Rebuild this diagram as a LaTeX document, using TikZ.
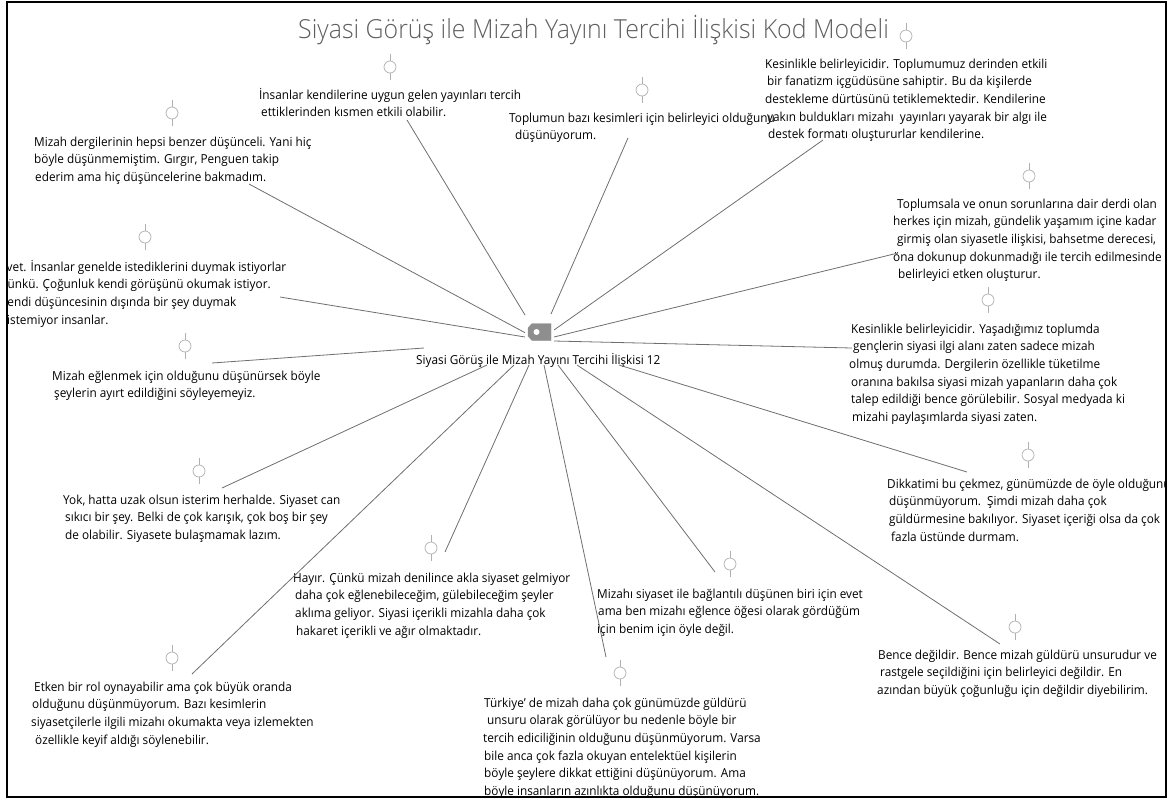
\documentclass[tikz,border=0pt]{standalone}
\usepackage{fontspec}
\setmainfont{Open Sans}[FakeStretch=0.95]
\newfontfamily\ttlfont{Open Sans Light}[FakeStretch=0.95]
\definecolor{linegray}{HTML}{6E6E6E}
\definecolor{hubgray}{HTML}{8E8E8E}
\definecolor{memogray}{HTML}{B0B0B0}
\definecolor{titlegray}{HTML}{5E5E5E}
\newcommand{\fs}{\rule{0pt}{12pt}}
\tikzset{
  txt/.style={anchor=north west,inner sep=0pt,align=left,text=black,font=\fontsize{12.4}{17.65}\selectfont},
  link/.style={draw=linegray,line width=0.8pt},
  memo/.style={circle,draw=memogray,line width=0.7pt,minimum size=12pt,inner sep=0pt,fill=white},
  stem/.style={draw=memogray,line width=0.7pt},
  frameline/.style={draw=black,line width=2pt}
}
\begin{document}
\begin{tikzpicture}[x=1pt,y=-1pt]
\useasboundingbox (0,0) rectangle (1168,801);
\begin{scope}
\clip (7,2) rectangle (1165.5,797);
\node[anchor=base west,inner sep=0pt,text=titlegray,font=\ttlfont\fontsize{26.2}{30}\selectfont] (title) at (298,38) {Siyasi Görüş ile Mizah Yayını Tercihi İlişkisi Kod Modeli};
\node[txt] (t1) at (34,134) {\fs Mizah dergilerinin hepsi benzer düşünceli. Yani hiç\\böyle düşünmemiştim. Gırgır, Penguen takip\\\hspace*{1pt}ederim ama hiç düşüncelerine bakmadım.};
\node[txt] (t2) at (259,87) {\fs İnsanlar kendilerine uygun gelen yayınları tercih\\\hspace*{2pt}ettiklerinden kısmen etkili olabilir.};
\node[txt] (t3) at (509,110) {\fs Toplumun bazı kesimleri için belirleyici olduğunu\\\hspace*{6pt}düşünüyorum.};
\node[txt] (t4) at (765,56) {\fs Kesinlikle belirleyicidir. Toplumumuz derinden etkili\\\hspace*{2pt}bir fanatizm içgüdüsüne sahiptir. Bu da kişilerde\\destekleme dürtüsünü tetiklemektedir. Kendilerine\\\hspace*{2pt}yakın buldukları mizahı\ \ yayınları yayarak bir algı ile\\\hspace*{3pt}destek formatı oluştururlar kendilerine.};
\node[txt] (t5) at (893,196) {\fs\hspace*{4pt}Toplumsala ve onun sorunlarına dair derdi olan\\herkes için mizah, gündelik yaşamım içine kadar\\\hspace*{4pt}girmiş olan siyasetle ilişkisi, bahsetme derecesi,\\öna dokunup dokunmadığı ile tercih edilmesinde\\\hspace*{5pt}belirleyici etken oluşturur.};
\node[txt] (t6) at (849,321) {\fs\hspace*{2pt}Kesinlikle belirleyicidir. Yaşadığımız toplumda\\\hspace*{4pt}gençlerin siyasi ilgi alanı zaten sadece mizah\\olmuş durumda. Dergilerin özellikle tüketilme\\\hspace*{2pt}oranına bakılsa siyasi mizah yapanların daha çok\\\hspace*{2pt}talep edildiği bence görülebilir. Sosyal medyada ki\\\hspace*{3pt}mizahi paylaşımlarda siyasi zaten.};
\node[txt] (t7) at (887,476) {\fs Dikkatimi bu çekmez, günümüzde de öyle olduğunu\\\hspace*{2pt}düşünmüyorum.\ \ Şimdi mizah daha çok\\\hspace*{2pt}güldürmesine bakılıyor. Siyaset içeriği olsa da çok\\\hspace*{4pt}fazla üstünde durmam.};
\node[txt] (t8) at (877,647) {\fs\hspace*{1pt}Bence değildir. Bence mizah güldürü unsurudur ve\\\hspace*{3pt}rastgele seçildiğini için belirleyici değildir. En\\azından büyük çoğunluğu için değildir diyebilirim.};
\node[txt] (t9) at (597,586) {\fs Mizahı siyaset ile bağlantılı düşünen biri için evet\\\hspace*{1pt}ama ben mizahı eğlence öğesi olarak gördüğüm\\için benim için öyle değil.};
\node[txt] (t10) at (483,695) {\fs\hspace*{1pt}Türkiye’ de mizah daha çok günümüzde güldürü\\\hspace*{4pt}unsuru olarak görülüyor bu nedenle böyle bir\\tercih ediciliğinin olduğunu düşünmüyorum. Varsa\\\hspace*{1pt}bile anca çok fazla okuyan entelektüel kişilerin\\\hspace*{1pt}böyle şeylere dikkat ettiğini düşünüyorum. Ama\\\hspace*{1pt}böyle insanların azınlıkta olduğunu düşünüyorum.};
\node[txt] (t11) at (293,570) {\fs Hayır. Çünkü mizah denilince akla siyaset gelmiyor\\\hspace*{2pt}daha çok eğlenebileceğim, gülebileceğim şeyler\\\hspace*{2pt}aklıma geliyor. Siyasi içerikli mizahla daha çok\\\hspace*{3pt}hakaret içerikli ve ağır olmaktadır.};
\node[txt] (t12) at (31,679) {\fs\hspace*{3pt}Etken bir rol oynayabilir ama çok büyük oranda\\\hspace*{1pt}olduğunu düşünmüyorum. Bazı kesimlerin\\siyasetçilerle ilgili mizahı okumakta veya izlemekten\\\hspace*{4pt}özellikle keyif aldığı söylenebilir.};
\node[txt] (t13) at (63,492) {\fs Yok, hatta uzak olsun isterim herhalde. Siyaset can\\\hspace*{2pt}sıkıcı bir şey. Belki de çok karışık, çok boş bir şey\\\hspace*{2pt}de olabilir. Siyasete bulaşmamak lazım.};
\node[txt] (t14) at (52,368) {\fs Mizah eğlenmek için olduğunu düşünürsek böyle\\\hspace*{2pt}şeylerin ayırt edildiğini söyleyemeyiz.};
\node[txt] (t15) at (0,259) {\fs Evet. İnsanlar genelde istediklerini duymak istiyorlar\\Çünkü. Çoğunluk kendi görüşünü okumak istiyor.\\Kendi düşüncesinin dışında bir şey duymak\\\hspace*{7pt}istemiyor insanlar.};
\node[anchor=base west,inner sep=0pt,font=\fontsize{12.4}{14}\selectfont] (hublabel) at (416,364) {Siyasi Görüş ile Mizah Yayını Tercihi İlişkisi 12};
\end{scope}
% hub
\filldraw[draw=hubgray,fill=hubgray] (532,323.5) -- (551,323.5) -- (551,340.5) -- (532,340.5) -- (528,336) -- (528,328) -- cycle;
\node[circle,fill=white,minimum size=6pt,inner sep=0pt] (hub) at (536.5,332) {};
% connector ends
\foreach \n/\sx/\sy/\ex/\ey in {
 a/525/332.7/249/184, b/525/315/407/120, c/551/314/628/138, d/554/330/823/140,
 e/554/337/898/253, f/554/341/852/348, g/525/337/280/297, h/424/348/212/363,
 i/487/365/222/488, j/514/365/192/674, k/529/365/445/552, l/544/365/606/657,
 m/558/365/715/572, n/577/365/1000/644, o/619/365/967/472}{
  \coordinate (s\n) at (\sx,\sy);
  \coordinate (e\n) at (\ex,\ey);
  \draw[link] (s\n) -- (e\n);
}
% memo icons
\foreach \n/\mx/\my in {1/390/67,2/172/113,3/642/90,4/906/36,5/1029/176,6/988/300,7/145/237,8/185/346,9/1028/455,10/199/471,11/1015/627,12/730/564,13/431/548,14/620/673,15/172/658}{
  \node[memo] (memo\n) at (\mx,\my) {};
  \coordinate (up\n) at (\mx,\my-13);
  \coordinate (dn\n) at (\mx,\my+13);
  \draw[stem] (memo\n.north) -- (up\n);
  \draw[stem] (memo\n.south) -- (dn\n);
}
\draw[frameline] (6.5,2) rectangle (1165.5,797);
\end{tikzpicture}
\end{document}
